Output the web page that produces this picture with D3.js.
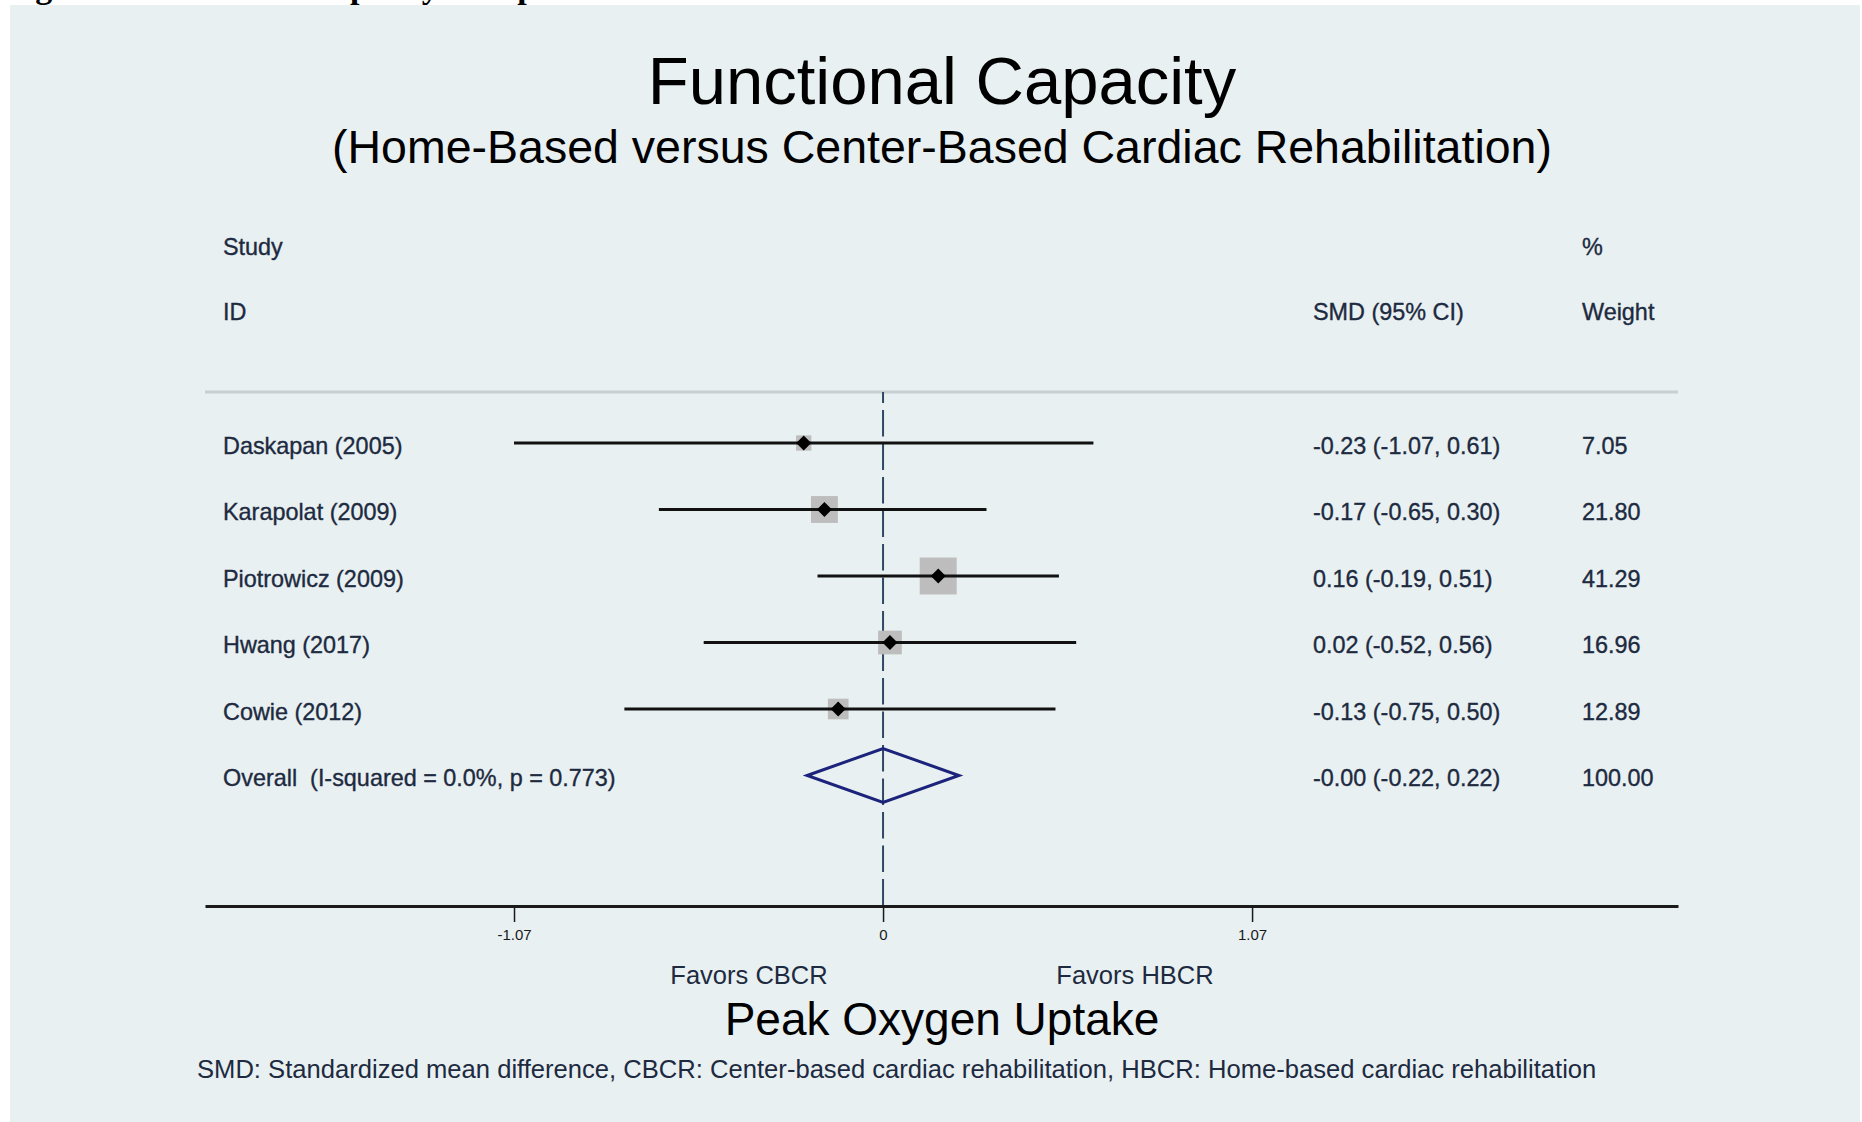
<!DOCTYPE html>
<html>
<head>
<meta charset="utf-8">
<script src="https://cdn.jsdelivr.net/npm/d3@7"></script>
<style>
  html, body { margin: 0; padding: 0; background: #ffffff; }
  svg { display: block; }
  text { font-family: "Liberation Sans", Arial, Helvetica, sans-serif; }
</style>
</head>
<body>
<div id="chart"></div>
<script>
// ---------------- DATA ----------------
const studies   = ["Daskapan (2005)", "Karapolat (2009)", "Piotrowicz (2009)", "Hwang (2017)", "Cowie (2012)"];
const smd       = [-0.23, -0.17, 0.16, 0.02, -0.13];
const ciLower   = [-1.07, -0.65, -0.19, -0.52, -0.75];
const ciUpper   = [0.61, 0.30, 0.51, 0.56, 0.50];
const weights   = [7.05, 21.80, 41.29, 16.96, 12.89];
const smdLabels = ["-0.23 (-1.07, 0.61)", "-0.17 (-0.65, 0.30)", "0.16 (-0.19, 0.51)", "0.02 (-0.52, 0.56)", "-0.13 (-0.75, 0.50)"];
const weightLabels = ["7.05", "21.80", "41.29", "16.96", "12.89"];

const overallLabel  = "Overall  (I-squared = 0.0%, p = 0.773)";
const overallSmd    = [-0.00, -0.22, 0.22];   // estimate, lower, upper
const overallText   = "-0.00 (-0.22, 0.22)";
const overallWeight = "100.00";

const tickValues = [-1.07, 0, 1.07];
const tickLabels = ["-1.07", "0", "1.07"];

const figureCaption = "Figure 2. Functional Capacity Comparison";
const title    = "Functional Capacity";
const subtitle = "(Home-Based versus Center-Based Cardiac Rehabilitation)";
const xTitle   = "Peak Oxygen Uptake";
const favorsLeft  = "Favors CBCR";
const favorsRight = "Favors HBCR";
const footnote = "SMD: Standardized mean difference, CBCR: Center-based cardiac rehabilitation, HBCR: Home-based cardiac rehabilitation";

// ---------------- LAYOUT ----------------
const W = 1862, H = 1122;
const svg = d3.select("#chart").append("svg").attr("width", W).attr("height", H);

svg.append("rect").attr("x", 0).attr("y", 0).attr("width", W).attr("height", H).attr("fill", "#ffffff");
svg.append("rect").attr("x", 10).attr("y", 5).attr("width", 1850).attr("height", H - 5).attr("fill", "#e8f0f2");

const textColor = "#1d2a3f";
const tableFont = "23.4px";

// scales
const x = d3.scaleLinear().domain([-1.966, 2.305]).range([205, 1678]);
const rowKeys = studies.concat([overallLabel]);
const y = d3.scalePoint().domain(rowKeys).range([443, 775.5]);
const side = d3.scaleSqrt().domain([0, d3.max(weights)]).range([0, 37]);

// cut-off figure caption at the very top (as in the source image)
svg.append("text").attr("x", 5).attr("y", -2)
  .style("font-family", "'Liberation Serif', 'Times New Roman', serif")
  .style("font-weight", "bold").style("font-size", "34px").attr("fill", "#000")
  .text(figureCaption);

// titles
svg.append("text").attr("x", 942).attr("y", 104).attr("text-anchor", "middle")
  .style("font-size", "67px").attr("fill", "#000").text(title);
svg.append("text").attr("x", 942).attr("y", 163).attr("text-anchor", "middle")
  .style("font-size", "46.5px").attr("fill", "#000").text(subtitle);

// column headers
const hdr = svg.append("g").style("font-size", tableFont).attr("fill", textColor)
  .attr("stroke", textColor).attr("stroke-width", 0.35);
hdr.append("text").attr("x", 223).attr("y", 255).text("Study");
hdr.append("text").attr("x", 223).attr("y", 320).text("ID");
hdr.append("text").attr("x", 1313).attr("y", 320).text("SMD (95% CI)");
hdr.append("text").attr("x", 1582).attr("y", 255).text("%");
hdr.append("text").attr("x", 1582).attr("y", 320).text("Weight");

// header separator
svg.append("line").attr("x1", x.range()[0]).attr("x2", x.range()[1])
  .attr("y1", 392).attr("y2", 392).attr("stroke", "#c8cfd2").attr("stroke-width", 3);

// null line (dashed)
svg.append("line").attr("x1", x(0)).attr("x2", x(0)).attr("y1", 392).attr("y2", 906)
  .attr("stroke", "#2f4866").attr("stroke-width", 2)
  .attr("stroke-dasharray", "26.5 7").attr("stroke-dashoffset", 15.5);

// study rows
const rows = svg.append("g").selectAll("g.row").data(studies).join("g").attr("class", "row");
rows.append("rect")
  .attr("x", (d, i) => x(smd[i]) - side(weights[i]) / 2)
  .attr("y", (d, i) => y(d) - side(weights[i]) / 2)
  .attr("width", (d, i) => side(weights[i]))
  .attr("height", (d, i) => side(weights[i]))
  .attr("fill", "#bdbdbd");
rows.append("line")
  .attr("x1", (d, i) => x(ciLower[i])).attr("x2", (d, i) => x(ciUpper[i]))
  .attr("y1", d => y(d)).attr("y2", d => y(d))
  .attr("stroke", "#111").attr("stroke-width", 3);
rows.append("path")
  .attr("d", (d, i) => {
    const cx = x(smd[i]), cy = y(d), r = 7.5;
    return `M${cx - r},${cy}L${cx},${cy - r}L${cx + r},${cy}L${cx},${cy + r}Z`;
  })
  .attr("fill", "#000");

// row texts
const txt = svg.append("g").style("font-size", tableFont).attr("fill", textColor)
  .attr("stroke", textColor).attr("stroke-width", 0.35);
txt.selectAll("text.lab").data(rowKeys).join("text").attr("class", "lab")
  .attr("x", 223).attr("y", d => y(d) + 10.5).style("white-space", "pre").attr("xml:space", "preserve")
  .text(d => d);
txt.selectAll("text.smd").data(smdLabels.concat([overallText])).join("text").attr("class", "smd")
  .attr("x", 1313).attr("y", (d, i) => y(rowKeys[i]) + 10.5).text(d => d);
txt.selectAll("text.w").data(weightLabels.concat([overallWeight])).join("text").attr("class", "w")
  .attr("x", 1582).attr("y", (d, i) => y(rowKeys[i]) + 10.5).text(d => d);

// overall diamond
const oy = y(overallLabel);
svg.append("path")
  .attr("d", `M${x(overallSmd[1])},${oy}L${x(overallSmd[0])},${oy - 27}L${x(overallSmd[2])},${oy}L${x(overallSmd[0])},${oy + 27}Z`)
  .attr("fill", "none").attr("stroke", "#1c237b").attr("stroke-width", 3).attr("stroke-linejoin", "miter");

// x axis
const axis = d3.axisBottom(x).tickValues(tickValues)
  .tickFormat((d, i) => tickLabels[i]).tickSize(16).tickSizeOuter(0).tickPadding(7);
const ag = svg.append("g").attr("transform", "translate(0,906)").call(axis);
ag.select(".domain").attr("stroke", "#1a1a1a").attr("stroke-width", 3);
ag.selectAll(".tick line").attr("stroke", "#1a1a1a").attr("stroke-width", 1.5);
ag.selectAll(".tick text").style("font-size", "15px").attr("fill", "#1a1a1a")
  .style("font-family", "'Liberation Sans', Arial, sans-serif");

// favors labels
const fav = svg.append("g").style("font-size", "25.5px").attr("fill", textColor).attr("text-anchor", "middle");
fav.append("text").attr("x", 749).attr("y", 984).text(favorsLeft);
fav.append("text").attr("x", 1135).attr("y", 984).text(favorsRight);

// x title
svg.append("text").attr("x", 942).attr("y", 1035).attr("text-anchor", "middle")
  .style("font-size", "46px").attr("fill", "#000").text(xTitle);

// footnote
svg.append("text").attr("x", 197).attr("y", 1078)
  .style("font-size", "25.6px").attr("fill", textColor).text(footnote);
</script>
</body>
</html>
